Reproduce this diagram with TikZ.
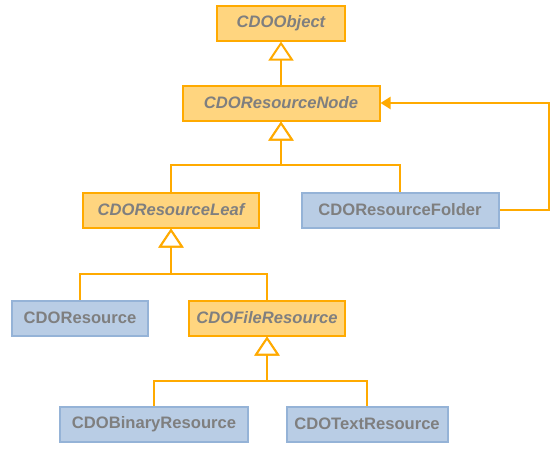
\documentclass[tikz,border=0pt]{standalone}
\usepackage{fontspec}
\setmainfont{Liberation Sans}
\usetikzlibrary{positioning,arrows.meta}
\definecolor{absfill}{HTML}{FFD57F}
\definecolor{absline}{HTML}{FFAA00}
\definecolor{clsfill}{HTML}{B9CDE5}
\definecolor{clsline}{HTML}{95B3D7}
\definecolor{txtgray}{HTML}{7F7F7F}

\begin{document}
\begin{tikzpicture}[on grid, node distance=80pt, line width=2pt,
		abstract/.style={draw=absline, fill=absfill, minimum height=35pt, text=txtgray, font=\fontsize{16.6}{19}\selectfont\bfseries\itshape},
		concrete/.style={draw=clsline, fill=clsfill, minimum height=35pt, text=txtgray, font=\fontsize{16.6}{19}\selectfont\bfseries},
		inherit/.style={draw=absline, -{Triangle[width=25pt,length=19pt,fill=white]}},
		link/.style={draw=absline, -{Triangle[width=12pt,length=10pt]}}]
		\useasboundingbox (0,0) rectangle (557pt,-455pt);
		\node[abstract, minimum width=128pt]	(c_0)	at (281pt,-23pt)					{CDOObject};
		\node[abstract, minimum width=197pt]	(c_1)	[below=of c_0]						{CDOResourceNode};
		\node[abstract, minimum width=176pt]	(c_2)	[below left=107pt and 110pt of c_1]	{CDOResourceLeaf};
		\node[concrete, minimum width=197pt]	(c_3)	[below right=107pt and 119pt of c_1]	{CDOResourceFolder};
		
		\node[concrete, minimum width=136pt]	(c_4)	[below left=108pt and 91pt of c_2]	{CDOResource};
		\node[abstract, minimum width=156pt]	(c_5)	[below right=108pt and 96pt of c_2]	{CDOFileResource};
		
		\node[concrete, minimum width=188pt]	(c_6)	[below left=106pt and 113pt of c_5]	{CDOBinaryResource};
		\node[concrete, minimum width=161pt]	(c_7)	[below right=106pt and 100pt of c_5]	{CDOTextResource};
		
		\draw[inherit]	(c_1.north)	--	(c_0.south);
		\draw[inherit]	(c_2.north)	--	++(0,27pt)	-|	(c_1.south);
		\draw[inherit]	(c_3.north)	--	++(0,27pt)	-|	(c_1.south);
		\draw[inherit]	(c_4.north)	--	++(0,26pt)	-|	(c_2.south);
		\draw[inherit]	(c_5.north)	--	++(0,26pt)	-|	(c_2.south);
		\draw[inherit]	(c_6.north)	--	++(0,25pt)	-|	(c_5.south);
		\draw[inherit]	(c_7.north)	--	++(0,25pt)	-|	(c_5.south);
		\draw[link]		(c_3.east)	--	++(49pt,0)	|-	(c_1.east);
	\end{tikzpicture}
\end{document}
